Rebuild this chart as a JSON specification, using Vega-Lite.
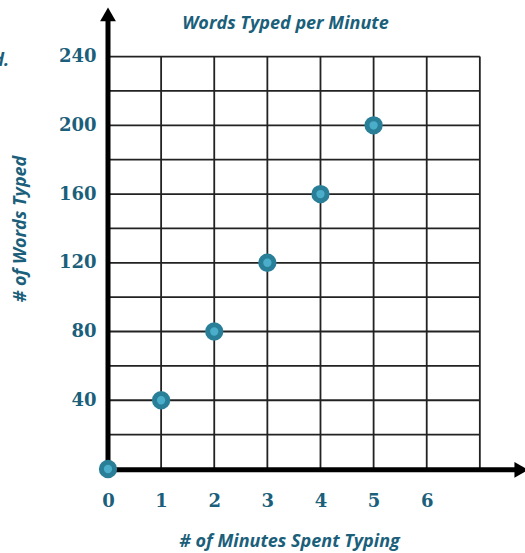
{
  "$schema": "https://vega.github.io/schema/vega-lite/v6.json",
  "width": 417,
  "height": 464,
  "autosize": "none",
  "padding": {"left": 108, "top": 5, "right": 0, "bottom": 84},
  "background": "white",
  "config": {"view": {"stroke": null}},
  "title": {
    "text": "Words Typed per Minute",
    "font": "Open Sans",
    "fontSize": 18,
    "fontWeight": "bold",
    "fontStyle": "italic",
    "color": "#1b5f7b",
    "frame": "group",
    "anchor": "middle",
    "offset": -22,
    "dy": 20,
    "dx": -31,
    "baseline": "alphabetic"
  },
  "datasets": {
    "points": [
      {"minutes": 0, "words": 0},
      {"minutes": 1, "words": 40},
      {"minutes": 2, "words": 80},
      {"minutes": 3, "words": 120},
      {"minutes": 4, "words": 160},
      {"minutes": 5, "words": 200}
    ],
    "vgrid": [
      {"minutes": 1}, {"minutes": 2}, {"minutes": 3}, {"minutes": 4},
      {"minutes": 5}, {"minutes": 6}, {"minutes": 7}
    ],
    "hgrid": [
      {"words": 20}, {"words": 40}, {"words": 60}, {"words": 80},
      {"words": 100}, {"words": 120}, {"words": 140}, {"words": 160},
      {"words": 180}, {"words": 200}, {"words": 220}, {"words": 240}
    ],
    "one": [{}],
    "note": [{"minutes": -1.86, "words": 234.5, "label": "d."}]
  },
  "layer": [
    {
      "data": {"name": "vgrid"},
      "mark": {"type": "rule", "color": "#222222", "strokeWidth": 1.8},
      "encoding": {
        "x": {"field": "minutes", "type": "quantitative", "scale": {"domain": [0, 7.85], "nice": false, "zero": false}},
        "y": {"datum": 0, "scale": {"domain": [0, 270], "nice": false, "zero": false}},
        "y2": {"datum": 240}
      }
    },
    {
      "data": {"name": "hgrid"},
      "mark": {"type": "rule", "color": "#222222", "strokeWidth": 1.8},
      "encoding": {
        "y": {"field": "words", "type": "quantitative"},
        "x": {"datum": 0},
        "x2": {"datum": 7}
      }
    },
    {
      "data": {"name": "one"},
      "mark": {"type": "rule", "color": "black", "strokeWidth": 5},
      "encoding": {
        "x": {"datum": 0},
        "y": {"datum": -0.5},
        "y2": {"datum": 262}
      }
    },
    {
      "data": {"name": "one"},
      "mark": {"type": "rule", "color": "black", "strokeWidth": 5},
      "encoding": {
        "y": {"datum": -0.5},
        "x": {"datum": 0},
        "x2": {"datum": 7.7}
      }
    },
    {
      "data": {"name": "one"},
      "mark": {"type": "point", "shape": "triangle-up", "filled": true, "color": "black", "opacity": 1, "size": 250},
      "encoding": {
        "x": {"datum": 0},
        "y": {"datum": 264.5}
      }
    },
    {
      "data": {"name": "one"},
      "mark": {"type": "point", "shape": "triangle-right", "filled": true, "color": "black", "opacity": 1, "size": 250},
      "encoding": {
        "x": {"datum": 7.78},
        "y": {"datum": -0.5}
      }
    },
    {
      "data": {"name": "points"},
      "mark": {"type": "point", "filled": true, "fill": "#4aaecb", "stroke": "#2a7f98", "strokeWidth": 5, "size": 177, "opacity": 1, "strokeOpacity": 1},
      "encoding": {
        "x": {
          "field": "minutes",
          "type": "quantitative",
          "axis": {
            "values": [0, 1, 2, 3, 4, 5, 6],
            "domain": false,
            "ticks": false,
            "tickSize": 0,
            "grid": false,
            "labelFont": "DejaVu Serif",
            "labelFontWeight": "bold",
            "labelFontSize": 18,
            "labelColor": "#1b5f7b",
            "labelPadding": 23,
            "labelBaseline": "top",
            "labelFlush": false,
            "labelOverlap": false,
            "labelBound": false,
            "title": "# of Minutes Spent Typing",
            "titleFont": "Open Sans",
            "titleFontSize": 18,
            "titleFontWeight": "bold",
            "titleFontStyle": "italic",
            "titleColor": "#1b5f7b",
            "titleX": 181,
            "titleY": 77,
            "titleAlign": "center",
            "titleBaseline": "alphabetic",
            "titleAnchor": null
          }
        },
        "y": {
          "field": "words",
          "type": "quantitative",
          "axis": {
            "values": [40, 80, 120, 160, 200, 240],
            "domain": false,
            "ticks": false,
            "tickSize": 0,
            "grid": false,
            "labelFont": "DejaVu Serif",
            "labelFontWeight": "bold",
            "labelFontSize": 18,
            "labelColor": "#1b5f7b",
            "labelPadding": 12,
            "labelBaseline": "middle",
            "labelFlush": false,
            "labelOverlap": false,
            "labelBound": false,
            "title": "# of Words Typed",
            "titleFont": "Open Sans",
            "titleFontSize": 18,
            "titleFontWeight": "bold",
            "titleFontStyle": "italic",
            "titleColor": "#1b5f7b",
            "titleX": -83,
            "titleY": 223.5,
            "titleAngle": -90,
            "titleAlign": "center",
            "titleBaseline": "alphabetic"
          }
        }
      }
    },
    {
      "data": {"name": "note"},
      "mark": {"type": "text", "align": "right", "baseline": "alphabetic", "font": "Open Sans", "fontSize": 18, "fontWeight": "bold", "fontStyle": "italic", "color": "#1b5f7b"},
      "encoding": {
        "x": {"field": "minutes", "type": "quantitative"},
        "y": {"field": "words", "type": "quantitative"},
        "text": {"field": "label"}
      }
    }
  ]
}
